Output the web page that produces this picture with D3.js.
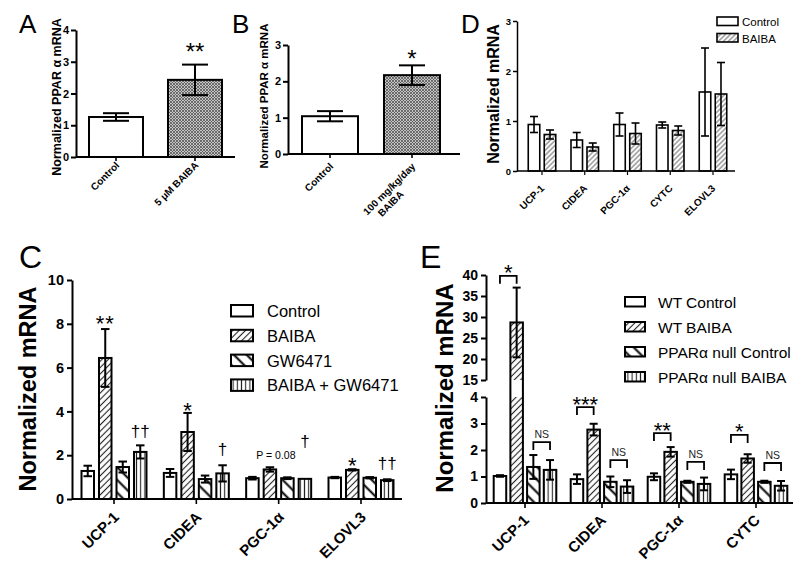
<!DOCTYPE html>
<html><head><meta charset="utf-8">
<script src="https://cdn.jsdelivr.net/npm/d3@7"></script>
<style>
body{margin:0;background:#fff;}
svg{font-family:"Liberation Sans", Arial, Helvetica, sans-serif;}
</style></head><body>
<svg id="chart" width="800" height="570"></svg>
<script>
// ================= DATA =================
const aCategories = ["Control", "5 \u03BCM BAIBA"];
const aValues = [1.26, 2.43];
const aErrors = [0.12, 0.48];
const aTicks = [0, 1, 2, 3, 4];

const bCategories = ["Control", "100 mg/kg/day|BAIBA"];
const bValues = [1.04, 2.17];
const bErrors = [0.14, 0.27];
const bTicks = [0, 1, 2, 3];

const dGenes = ["UCP-1", "CIDEA", "PGC-1\u03B1", "CYTC", "ELOVL3"];
const dSeries = ["Control", "BAIBA"];
const dControl = [0.93, 0.62, 0.93, 0.92, 1.58];
const dControlErr = [0.16, 0.15, 0.23, 0.06, 0.88];
const dBaiba = [0.73, 0.48, 0.75, 0.81, 1.54];
const dBaibaErr = [0.09, 0.08, 0.21, 0.09, 0.63];
const dTicks = [0, 1, 2, 3];

const cGenes = ["UCP-1", "CIDEA", "PGC-1\u03B1", "ELOVL3"];
const cSeries = ["Control", "BAIBA", "GW6471", "BAIBA + GW6471"];
const cControl = [1.28, 1.19, 0.95, 0.98];
const cControlErr = [0.24, 0.18, 0.06, 0.03];
const cBaiba = [6.44, 3.06, 1.35, 1.33];
const cBaibaErr = [1.32, 0.87, 0.10, 0.03];
const cGW = [1.46, 0.91, 0.95, 0.97];
const cGWErr = [0.25, 0.16, 0.04, 0.03];
const cBaibaGW = [2.15, 1.17, 0.92, 0.86];
const cBaibaGWErr = [0.30, 0.37, 0.0, 0.04];
const cTicks = [0, 2, 4, 6, 8, 10];
const cAnnotations = [
  {gene: "UCP-1", series: "BAIBA", text: "**", level: 8.26, kind: "star"},
  {gene: "UCP-1", series: "BAIBA + GW6471", text: "\u2020\u2020", level: 3.06, kind: "dagger"},
  {gene: "CIDEA", series: "BAIBA", text: "*", level: 4.29, kind: "star"},
  {gene: "CIDEA", series: "BAIBA + GW6471", text: "\u2020", level: 2.24, kind: "dagger"},
  {gene: "PGC-1\u03B1", series: "BAIBA", text: "P = 0.08", level: 2.0, kind: "p"},
  {gene: "PGC-1\u03B1", series: "BAIBA + GW6471", text: "\u2020", level: 2.6, kind: "dagger"},
  {gene: "ELOVL3", series: "BAIBA", text: "*", level: 1.78, kind: "star"},
  {gene: "ELOVL3", series: "BAIBA + GW6471", text: "\u2020\u2020", level: 1.6, kind: "dagger"}
];

const eGenes = ["UCP-1", "CIDEA", "PGC-1\u03B1", "CYTC"];
const eSeries = ["WT Control", "WT BAIBA", "PPAR\u03B1 null Control", "PPAR\u03B1 null BAIBA"];
const eWTControl = [1.02, 0.90, 0.99, 1.08];
const eWTControlErr = [0.03, 0.18, 0.13, 0.18];
const eWTBaiba = [28.7, 2.77, 1.93, 1.68];
const eWTBaibaErr = [8.3, 0.22, 0.18, 0.16];
const eNullControl = [1.36, 0.80, 0.80, 0.80];
const eNullControlErr = [0.45, 0.20, 0.04, 0.04];
const eNullBaiba = [1.25, 0.62, 0.72, 0.65];
const eNullBaibaErr = [0.37, 0.24, 0.24, 0.18];
const eTicksLow = [0, 1, 2, 3, 4];
const eTicksHigh = [15, 20, 25, 30, 35, 40];
const eBrackets = [
  {gene: "UCP-1", from: 0, to: 1, level: 39.8, text: "*"},
  {gene: "UCP-1", from: 2, to: 3, level: 2.3, text: "NS"},
  {gene: "CIDEA", from: 0, to: 1, level: 3.62, text: "***"},
  {gene: "CIDEA", from: 2, to: 3, level: 1.62, text: "NS"},
  {gene: "PGC-1\u03B1", from: 0, to: 1, level: 2.64, text: "**"},
  {gene: "PGC-1\u03B1", from: 2, to: 3, level: 1.55, text: "NS"},
  {gene: "CYTC", from: 0, to: 1, level: 2.57, text: "*"},
  {gene: "CYTC", from: 2, to: 3, level: 1.51, text: "NS"}
];

// ================= SETUP =================
const FONT = '"Liberation Sans", Arial, Helvetica, sans-serif';
const svg = d3.select("#chart");
const defs = svg.append("defs");

function linePattern(id, spacing, angle, color, width, bg) {
  const p = defs.append("pattern").attr("id", id).attr("patternUnits", "userSpaceOnUse")
    .attr("width", spacing).attr("height", spacing)
    .attr("patternTransform", `rotate(${angle})`);
  p.append("rect").attr("width", spacing).attr("height", spacing).attr("fill", bg || "#fff");
  p.append("line").attr("x1", spacing / 2).attr("x2", spacing / 2).attr("y1", -1).attr("y2", spacing + 1)
    .attr("stroke", color).attr("stroke-width", width);
}
const pc = defs.append("pattern").attr("id", "pCross").attr("patternUnits", "userSpaceOnUse")
  .attr("width", 3).attr("height", 3);
pc.append("rect").attr("width", 3).attr("height", 3).attr("fill", "#c4c4c4");
pc.append("path").attr("d", "M0,0L3,3M3,0L0,3").attr("stroke", "#555").attr("stroke-width", 0.8);
linePattern("pD", 3.5, 45, "#555", 0.9);
linePattern("pFwd", 4.5, 45, "#222", 1.1);
linePattern("pBack", 9, -45, "#000", 2);
linePattern("pVert", 4.2, 0, "#222", 1.1);

function styleAxis(sel, fs, lw) {
  sel.attr("font-family", FONT).attr("font-size", fs).attr("font-weight", "bold");
  sel.select(".domain").attr("stroke-width", lw).attr("stroke", "#000");
  sel.selectAll(".tick line").attr("stroke-width", lw).attr("stroke", "#000");
  sel.selectAll(".tick text").attr("fill", "#000");
}

function drawBars(g, items, y, base, lw) {
  items.forEach(it => {
    const top = y(it.v), bot = y(base);
    g.append("rect").attr("x", it.x).attr("y", top).attr("width", it.w).attr("height", bot - top)
      .attr("fill", it.fill).attr("stroke", "none");
    if (it.gap) {
      g.append("rect").attr("x", it.x).attr("y", y(it.gap[1])).attr("width", it.w)
        .attr("height", y(it.gap[0]) - y(it.gap[1])).attr("fill", "#fff");
    }
    g.append("rect").attr("x", it.x).attr("y", top).attr("width", it.w).attr("height", bot - top)
      .attr("fill", "none").attr("stroke", "#000").attr("stroke-width", lw);
  });
  items.forEach(it => {
    if (!it.e) return;
    const cx = it.x + it.w / 2, y1 = y(it.v + it.e), y2 = y(Math.max(0, it.v - it.e));
    g.append("line").attr("x1", cx).attr("x2", cx).attr("y1", y1).attr("y2", y2)
      .attr("stroke", "#000").attr("stroke-width", lw);
    [y1, y2].forEach(yy => g.append("line").attr("x1", cx - it.cap / 2).attr("x2", cx + it.cap / 2)
      .attr("y1", yy).attr("y2", yy).attr("stroke", "#000").attr("stroke-width", lw));
  });
}

function xAxisLine(g, x0, x1, y0, centers, lw, tl) {
  g.append("line").attr("x1", x0).attr("x2", x1).attr("y1", y0).attr("y2", y0)
    .attr("stroke", "#000").attr("stroke-width", lw);
  centers.forEach(cx => g.append("line").attr("x1", cx).attr("x2", cx).attr("y1", y0).attr("y2", y0 + tl)
    .attr("stroke", "#000").attr("stroke-width", lw * 0.8));
}

function rotLabels(g, labels, xs, y0, dx, dy, fs, lineShift) {
  labels.forEach((lab, i) => {
    const parts = lab.split("|");
    const t = g.append("text").attr("transform", `translate(${xs[i] + dx},${y0 + dy}) rotate(-45)`)
      .attr("text-anchor", "end").attr("font-size", fs).attr("font-weight", "bold").attr("font-family", FONT);
    parts.forEach((p, j) => {
      t.append("tspan").attr("x", j === 0 ? 0 : -(lineShift || 0)).attr("dy", j === 0 ? 0 : "1.15em").text(p);
    });
  });
}

function yTitle(g, text, x, y, fs) {
  g.append("text").attr("transform", `translate(${x},${y}) rotate(-90)`).attr("text-anchor", "middle")
    .attr("font-size", fs).attr("font-weight", "bold").attr("font-family", FONT).text(text);
}
function panelLetter(text, x, y, fs) {
  svg.append("text").attr("x", x).attr("y", y).attr("font-size", fs).attr("font-family", FONT).text(text);
}

// ================= PANEL A =================
{
  const g = svg.append("g");
  const y = d3.scaleLinear().domain([0, 4]).range([157, 30]);
  const x = d3.scalePoint().domain(aCategories).range([116, 195]);
  const fills = ["#fff", "url(#pCross)"];
  drawBars(g, aCategories.map((c, i) => ({x: x(c) - 27, w: 54, v: aValues[i], e: aErrors[i], fill: fills[i], cap: 26})), y, 0, 2);
  const ax = g.append("g").attr("transform", "translate(76,0)")
    .call(d3.axisLeft(y).tickValues(aTicks).tickSize(5).tickSizeOuter(0).tickPadding(2).tickFormat(d3.format("d")));
  styleAxis(ax, 11, 2);
  xAxisLine(g, 76, 235, 157, aCategories.map(c => x(c)), 2, 4);
  rotLabels(g, aCategories, aCategories.map(c => x(c)), 157, 4, 9, 10);
  yTitle(g, "Normalized PPAR \u03B1 mRNA", 61, 97, 12.5);
  g.append("text").attr("x", x(aCategories[1])).attr("y", y(aValues[1] + aErrors[1]) - 5)
    .attr("text-anchor", "middle").attr("font-size", 24).attr("font-family", FONT).text("**");
  panelLetter("A", 19, 33, 26);
}

// ================= PANEL B =================
{
  const g = svg.append("g");
  const y = d3.scaleLinear().domain([0, 3]).range([154, 45]);
  const x = d3.scalePoint().domain(bCategories).range([330, 412]);
  const fills = ["#fff", "url(#pCross)"];
  drawBars(g, bCategories.map((c, i) => ({x: x(c) - 28, w: 56, v: bValues[i], e: bErrors[i], fill: fills[i], cap: 26})), y, 0, 2);
  const ax = g.append("g").attr("transform", "translate(288,0)")
    .call(d3.axisLeft(y).tickValues(bTicks).tickSize(5).tickSizeOuter(0).tickPadding(2).tickFormat(d3.format("d")));
  styleAxis(ax, 11, 2);
  xAxisLine(g, 288, 460, 154, bCategories.map(c => x(c)), 2, 4);
  rotLabels(g, bCategories, bCategories.map(c => x(c)), 154, 4, 13, 10, 28);
  yTitle(g, "Normalized PPAR \u03B1 mRNA", 268, 96, 11.5);
  g.append("text").attr("x", x(bCategories[1])).attr("y", y(bValues[1] + bErrors[1]) + 2)
    .attr("text-anchor", "middle").attr("font-size", 24).attr("font-family", FONT).text("*");
  panelLetter("B", 232, 33, 26);
}

// ================= PANEL D =================
{
  const g = svg.append("g");
  const y = d3.scaleLinear().domain([0, 3]).range([171, 21]);
  const x = d3.scalePoint().domain(dGenes).range([542, 713]);
  const inner = d3.scaleBand().domain(dSeries).range([-13.75, 13.75]).paddingInner(0.28);
  const vals = [dControl, dBaiba], errs = [dControlErr, dBaibaErr], fills = ["#fff", "url(#pD)"];
  const items = [];
  dGenes.forEach((gn, i) => dSeries.forEach((s, j) => items.push({
    x: x(gn) + inner(s), w: inner.bandwidth(), v: vals[j][i], e: errs[j][i], fill: fills[j], cap: 8})));
  drawBars(g, items, y, 0, 1.6);
  const ax = g.append("g").attr("transform", "translate(517,0)")
    .call(d3.axisLeft(y).tickValues(dTicks).tickSize(4).tickSizeOuter(0).tickPadding(2).tickFormat(d3.format("d")));
  styleAxis(ax, 9.5, 1.5);
  xAxisLine(g, 517, 735, 171, dGenes.map(c => x(c)), 1.5, 4);
  rotLabels(g, dGenes, dGenes.map(c => x(c)), 171, 3, 18, 10);
  yTitle(g, "Normalized mRNA", 499, 94, 16);
  dSeries.forEach((s, j) => {
    g.append("rect").attr("x", 717).attr("y", 17 + j * 16.5).attr("width", 21).attr("height", 8.5)
      .attr("fill", fills[j]).attr("stroke", "#000").attr("stroke-width", 1.6);
    g.append("text").attr("x", 742).attr("y", 26 + j * 16.5).attr("font-size", 11.5).attr("font-family", FONT).text(s);
  });
  panelLetter("D", 461, 33, 26);
}

// ================= PANEL C =================
{
  const g = svg.append("g");
  const y = d3.scaleLinear().domain([0, 10]).range([499, 280]);
  const x = d3.scalePoint().domain(cGenes).range([114, 361]);
  const inner = d3.scaleBand().domain(cSeries).range([-32.5, 32.5]).paddingInner(0.2857);
  const vals = [cControl, cBaiba, cGW, cBaibaGW], errs = [cControlErr, cBaibaErr, cGWErr, cBaibaGWErr];
  const fills = ["#fff", "url(#pFwd)", "url(#pBack)", "url(#pVert)"];
  const items = [];
  cGenes.forEach((gn, i) => cSeries.forEach((s, j) => items.push({
    x: x(gn) + inner(s), w: inner.bandwidth(), v: vals[j][i], e: errs[j][i], fill: fills[j], cap: 8.5})));
  drawBars(g, items, y, 0, 2);
  const ax = g.append("g").attr("transform", "translate(72,0)")
    .call(d3.axisLeft(y).tickValues(cTicks).tickSize(5).tickSizeOuter(0).tickPadding(3).tickFormat(d3.format("d")));
  styleAxis(ax, 14.5, 2);
  xAxisLine(g, 72, 402, 499, cGenes.map(c => x(c)), 2, 5);
  rotLabels(g, cGenes, cGenes.map(c => x(c)), 499, 6, 19, 15);
  yTitle(g, "Normalized mRNA", 36, 389, 23.5);
  cAnnotations.forEach(a => {
    const cx = x(a.gene) + inner(a.series) + inner.bandwidth() / 2;
    const fs = a.kind === "star" ? 22 : a.kind === "dagger" ? 17 : 10.5;
    const k = a.kind === "star" ? 0.57 : a.kind === "dagger" ? 0.3 : 0.36;
    g.append("text").attr("x", cx + (a.kind === "p" ? 6 : 0)).attr("y", y(a.level) + k * fs)
      .attr("text-anchor", "middle").attr("font-size", fs).attr("font-family", FONT)
      .attr("letter-spacing", a.kind === "star" && a.text.length > 1 ? 1 : 0).text(a.text);
  });
  cSeries.forEach((s, j) => {
    g.append("rect").attr("x", 231).attr("y", 305 + j * 24.8).attr("width", 22).attr("height", 11.5)
      .attr("fill", fills[j]).attr("stroke", "#000").attr("stroke-width", 2);
    g.append("text").attr("x", 267).attr("y", 317 + j * 24.8).attr("font-size", 16.5).attr("font-family", FONT).text(s);
  });
  panelLetter("C", 19, 268, 32);
}

// ================= PANEL E =================
{
  const g = svg.append("g");
  const y = d3.scaleLinear().domain([0, 4, 15, 40]).range([503, 397, 380, 275]);
  const yLow = d3.scaleLinear().domain([0, 4]).range([503, 397]);
  const yHigh = d3.scaleLinear().domain([15, 40]).range([380, 275]);
  const x = d3.scalePoint().domain(eGenes).range([525, 756]);
  const inner = d3.scaleBand().domain(eSeries).range([-31.3, 31.3]).paddingInner(0.25);
  const vals = [eWTControl, eWTBaiba, eNullControl, eNullBaiba];
  const errs = [eWTControlErr, eWTBaibaErr, eNullControlErr, eNullBaibaErr];
  const fills = ["#fff", "url(#pFwd)", "url(#pBack)", "url(#pVert)"];
  const items = [];
  eGenes.forEach((gn, i) => eSeries.forEach((s, j) => items.push({
    x: x(gn) + inner(s), w: inner.bandwidth(), v: vals[j][i], e: errs[j][i], fill: fills[j], cap: 8,
    gap: vals[j][i] > 15 ? [4, 15] : null})));
  drawBars(g, items, y, 0, 2);
  const ax1 = g.append("g").attr("transform", "translate(486,0)")
    .call(d3.axisLeft(yLow).tickValues(eTicksLow).tickSize(5).tickSizeOuter(0).tickPadding(3).tickFormat(d3.format("d")));
  styleAxis(ax1, 14, 2);
  const ax2 = g.append("g").attr("transform", "translate(486,0)")
    .call(d3.axisLeft(yHigh).tickValues(eTicksHigh).tickSize(5).tickSizeOuter(0).tickPadding(3).tickFormat(d3.format("d")));
  styleAxis(ax2, 14, 2);
  xAxisLine(g, 486, 793, 503, eGenes.map(c => x(c)), 2, 5);
  rotLabels(g, eGenes, eGenes.map(c => x(c)), 503, 5, 18, 15);
  yTitle(g, "Normalized mRNA", 453, 388, 24);
  eBrackets.forEach(b => {
    const x1 = x(b.gene) + inner(eSeries[b.from]) + inner.bandwidth() / 2;
    const x2 = x(b.gene) + inner(eSeries[b.to]) + inner.bandwidth() / 2;
    const yt = y(b.level);
    g.append("path").attr("d", `M${x1},${yt + 8}V${yt}H${x2}V${yt + 8}`).attr("fill", "none")
      .attr("stroke", "#000").attr("stroke-width", 1.8);
    const isNS = b.text === "NS";
    const fs = isNS ? 10.5 : 22;
    g.append("text").attr("x", (x1 + x2) / 2).attr("y", yt - 8 + (isNS ? 0.36 : 0.57) * fs)
      .attr("text-anchor", "middle").attr("font-size", fs).attr("font-family", FONT)
      .attr("fill", isNS ? "#222" : "#000").text(b.text);
  });
  eSeries.forEach((s, j) => {
    g.append("rect").attr("x", 625).attr("y", 297 + j * 25).attr("width", 20).attr("height", 9.5)
      .attr("fill", fills[j]).attr("stroke", "#000").attr("stroke-width", 2);
    g.append("text").attr("x", 658).attr("y", 307.5 + j * 25).attr("font-size", 15.5).attr("font-family", FONT).text(s);
  });
  panelLetter("E", 420, 268, 32);
}
</script>
</body></html>
